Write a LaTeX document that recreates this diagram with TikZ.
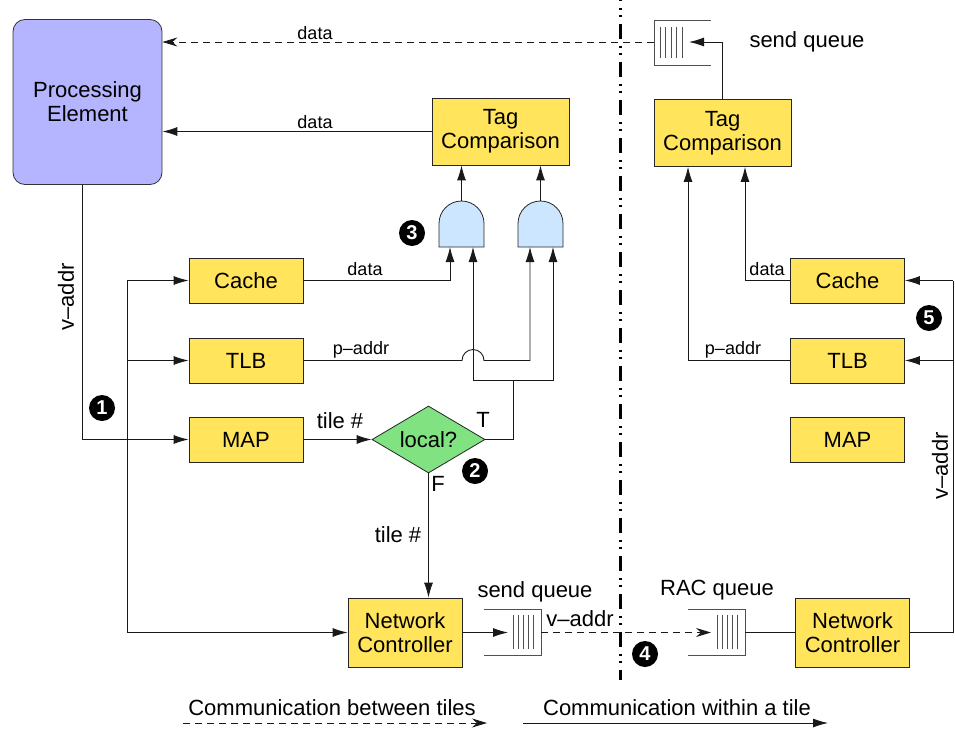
\documentclass[tikz,border=0pt]{standalone}
\usepackage{fontspec}
\setmainfont{Liberation Sans}
\usetikzlibrary{arrows.meta,shapes.geometric,calc}

\definecolor{unitfill}{RGB}{255,228,92}
\definecolor{pefill}{RGB}{180,180,255}
\definecolor{decfill}{RGB}{128,226,128}
\definecolor{gatefill}{RGB}{204,230,255}
\definecolor{wire}{RGB}{25,25,25}
\definecolor{qline}{RGB}{80,80,80}

\begin{document}
\begin{tikzpicture}[x=1pt,y=-1pt,
  every node/.style={font=\fontsize{22}{24}\selectfont, inner sep=0pt},
  lbl/.style={font=\fontsize{18}{20}\selectfont},
  unit/.style={draw=black!85, line width=0.8pt, fill=unitfill, align=center,
               minimum width=114pt, minimum height=45pt},
  bigunit/.style={unit, minimum width=137pt, minimum height=67pt},
  ncunit/.style={unit, minimum width=114pt, minimum height=69pt},
  wired/.style={draw=wire, line width=0.9pt},
  link/.style={wired, -{Latex[length=15pt,width=9pt]}},
  remote/.style={draw=wire, line width=0.9pt, dash pattern=on 7pt off 5pt,
                 -{Stealth[length=15pt,width=9pt,inset=5pt]}},
  gate/.style={draw=black!85, line width=0.8pt, fill=gatefill},
  queue/.style={draw=qline, line width=0.9pt},
  bar/.style={draw=qline, line width=1pt},
  marker/.style={circle, fill=black, text=white, minimum size=26pt,
                 font=\fontsize{20}{20}\selectfont\bfseries}]

\useasboundingbox (0,0) rectangle (955,731);

% ---------------- local tile ----------------
\node[draw=black!80, line width=0.8pt, fill=pefill, rounded corners=12pt,
      minimum width=149pt, minimum height=165pt, align=center]
      (pe) at (87.5,102) {Processing\\Element};

\node[bigunit] (tagL) at (500.5,131.5) {Tag\\Comparison};
\node[unit] (cacheL) at (246,280.5) {Cache};
\node[unit] (tlbL) at (246,360.5) {TLB};
\node[unit] (mapL) at (246,439.5) {MAP};
\node[diamond, draw=black!85, line width=0.8pt, fill=decfill, aspect=1.69,
      minimum width=113pt, minimum height=67pt] (dec) at (428.5,439.5) {local?};
\node[ncunit] (ncL) at (405,632.5) {Network\\Controller};

% AND gates
\path[gate] (439,247) -- (439,223.5) arc[start angle=180,end angle=0,radius=22.5pt]
            -- (484,247) -- cycle;
\path[gate] (518,247) -- (518,223.5) arc[start angle=180,end angle=0,radius=22.5pt]
            -- (563,247) -- cycle;
\coordinate (g1out) at (461.5,201);
\coordinate (g1a) at (450,247);
\coordinate (g1b) at (473,247);
\coordinate (g2out) at (540.5,201);
\coordinate (g2a) at (530,247);
\coordinate (g2b) at (553,247);

\draw[link] (g1out) -- (g1out |- tagL.south);
\draw[link] (g2out) -- (g2out |- tagL.south);

% virtual address fan-out
\coordinate (peout) at (82,185);
\coordinate (busT) at (127,280.5);
\coordinate (busB) at (127,632.5);
\draw[link] (peout) |- (mapL.west);
\node[rotate=90] at (66,297) {v–addr};
\draw[wired] (busT) -- (busB);
\draw[link] (busT) -- (cacheL.west);
\draw[link] (busT |- tlbL.west) -- (tlbL.west);
\draw[link] (busB) -- (ncL.west);

% cache / tlb into gates
\draw[link] (cacheL.east) -| (g1a);
\node[lbl] at (365,269) {data};
\draw[link] (tlbL.east) -- ($(g1b |- tlbL.east)+(-11,0)$)
            arc[start angle=180,end angle=0,radius=11pt] -| (g2a);
\node[lbl] at (361,350) {p–addr};

% map and locality test
\draw[link] (mapL.east) -- (dec.west);
\node at (340,421) {tile \#};
\coordinate (tj) at (513,380);
\draw[wired] (dec.east) -| (tj);
\draw[link] (tj) -| (g1b);
\draw[link] (tj) -| (g2b);
\node at (483,420) {T};
\node at (438,484) {F};
\draw[link] (dec.south) -- (dec.south |- ncL.north);
\node at (398,535) {tile \#};

% results back to the processing element
\draw[link] (tagL.west) -- (tagL.west -| pe.east);
\node[lbl] at (315,122) {data};

% outgoing send queue (bottom)
\draw[queue] (484,609) -- (541,609) -- (541,655) -- (484,655);
\foreach \x in {513,518,523,528,533} \draw[bar] (\x,615) -- (\x,649);
\coordinate (sqL) at (541,632.5);
\draw[link] (ncL.east) -- (508,632.5);
\node at (535,592) {send queue};
\node at (580,619) {v–addr};

% ---------------- tile boundary ----------------
\draw[line width=3pt, draw=black, dash pattern=on 15pt off 7pt on 2pt off 5pt on 2pt off 7pt,
      dash phase=14pt] (620,0) -- (620,680);

% ---------------- remote tile ----------------
\node[bigunit] (tagR) at (722.5,133) {Tag\\Comparison};
\node[unit] (cacheR) at (847.5,280.5) {Cache};
\node[unit] (tlbR) at (847.5,360.5) {TLB};
\node[unit] (mapR) at (847.5,439.5) {MAP};
\node[ncunit] (ncR) at (852.5,632.5) {Network\\Controller};

% RAC queue
\draw[queue] (688,609) -- (745,609) -- (745,655) -- (688,655);
\foreach \x in {717,722,727,732,737} \draw[bar] (\x,615) -- (\x,649);
\coordinate (racin) at (711,632.5);
\coordinate (racout) at (745,632.5);
\node at (717,590) {RAC queue};
\draw[remote] (sqL) -- (racin);
\draw[wired] (racout) -- (ncR.west);

% remote fan-out to cache and tlb
\coordinate (rbusB) at (953,632.5);
\coordinate (rbusT) at (953,280.5);
\draw[wired] (ncR.east) -- (rbusB) -- (rbusT);
\draw[link] (rbusT) -- (cacheR.east);
\draw[link] (rbusT |- tlbR.east) -- (tlbR.east);
\node[rotate=90] at (940,466) {v–addr};

\draw[link] (cacheR.west) -| ($(tagR.south)+(22.5,0)$);
\node[lbl] at (767,269) {data};
\draw[link] (tlbR.west) -| ($(tagR.south)+(-34.5,0)$);
\node[lbl] at (733,350) {p–addr};

% send queue back to the requesting tile
\draw[queue] (711,20) -- (654,20) -- (654,65) -- (711,65);
\foreach \x in {660,665.5,671,676.5,682} \draw[bar] (\x,27) -- (\x,58);
\coordinate (sqTin) at (689,42);
\coordinate (sqTout) at (654,42);
\draw[link] (tagR.north) |- (sqTin);
\node at (807,42) {send queue};
\draw[remote] (sqTout) -- (sqTout -| pe.east);
\node[lbl] at (315,33) {data};

% step markers
\node[marker] at (102,408) {1};
\node[marker] at (475,471) {2};
\node[marker] at (412,233) {3};
\node[marker] at (645,654) {4};
\node[marker] at (929,318) {5};

% legend
\coordinate (la1) at (183,723);
\coordinate (la2) at (487,723);
\coordinate (lb1) at (523,723);
\coordinate (lb2) at (828,723);
\draw[remote] (la1) -- (la2);
\node at (332,708) {Communication between tiles};
\draw[link] (lb1) -- (lb2);
\node at (677,708) {Communication within a tile};
\end{tikzpicture}
\end{document}
